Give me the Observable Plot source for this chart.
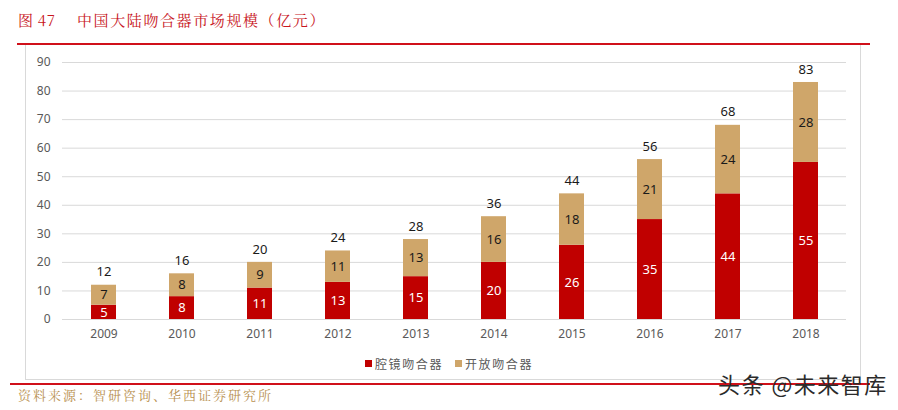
<!DOCTYPE html>
<html>
<head>
<meta charset="utf-8">
<script src="https://cdn.jsdelivr.net/npm/d3@7"></script>
<script src="https://cdn.jsdelivr.net/npm/@observablehq/plot@0.6"></script>
<style>
  html, body { margin: 0; padding: 0; background: #fff; }
  #page { position: relative; width: 898px; height: 410px; overflow: hidden; font-family: "Noto Sans CJK SC", "Noto Sans", sans-serif; }
  .title { position: absolute; top: 9px; font-size: 15px; color: #c8161d; white-space: pre; font-family: "Noto Serif CJK SC", "Noto Sans CJK SC", serif; }
  #titleA { left: 18px; letter-spacing: 0.5px; }
  #titleB { left: 77px; letter-spacing: 1.6px; }
  #rule1 { position: absolute; left: 17px; top: 43px; width: 853px; height: 2px; background: #d0101a; }
  #box { position: absolute; left: 25px; top: 45px; width: 836px; height: 335px; border-left: 1px solid #d9d9d9; border-right: 1px solid #d9d9d9; border-bottom: 1px solid #d9d9d9; box-sizing: border-box; }
  #chart { position: absolute; left: 0; top: 46px; }
  #legend { position: absolute; top: 353px; left: 0; width: 898px; text-align: center; font-size: 12px; color: #595959; letter-spacing: 1.6px; }
  #legend span.item { display: inline-flex; align-items: center; margin: 0 6px; }
  #legend span.sw { display: inline-block; width: 7px; height: 7px; margin-right: 3px; }
  #rule2 { position: absolute; left: 10px; top: 383px; width: 860px; height: 2px; background: #d0101a; }
  #source { position: absolute; left: 18px; top: 385px; font-size: 13px; letter-spacing: 2px; color: #b8904f; font-family: "Noto Serif CJK SC", "Noto Sans CJK SC", serif; }
  #wm { position: absolute; left: 718px; top: 367px; font-size: 22px; letter-spacing: 1.5px; color: #2b2b2b; font-family: "Noto Sans CJK SC", sans-serif; }
</style>
</head>
<body>
<div id="page">
  <div class="title" id="titleA">图 47</div>
  <div class="title" id="titleB">中国大陆吻合器市场规模（亿元）</div>
  <div id="rule1"></div>
  <div id="box"></div>
  <div id="chart"></div>
  <div id="legend"></div>
  <div id="rule2"></div>
  <div id="source">资料来源：智研咨询、华西证券研究所</div>
  <div id="wm">头条 @未来智库</div>
</div>
<script>
const years = ["2009","2010","2011","2012","2013","2014","2015","2016","2017","2018"];
const endoscopic = [5, 8, 11, 13, 15, 20, 26, 35, 44, 55];
const openType = [7, 8, 9, 11, 13, 16, 18, 21, 24, 28];
const totals = [12, 16, 20, 24, 28, 36, 44, 56, 68, 83];
const seriesNames = ["腔镜吻合器", "开放吻合器"];
const seriesColors = ["#c00000", "#cfa66a"];
const yTicks = [0, 10, 20, 30, 40, 50, 60, 70, 80, 90];

const rows = [];
years.forEach((y, i) => {
  rows.push({year: y, series: seriesNames[0], value: endoscopic[i], y1: 0, y2: endoscopic[i]});
  rows.push({year: y, series: seriesNames[1], value: openType[i], y1: endoscopic[i], y2: endoscopic[i] + openType[i]});
});
const totalRows = years.map((y, i) => ({year: y, total: totals[i]}));

const chart = Plot.plot({
  width: 898,
  height: 300,
  marginTop: 16,
  marginBottom: 27,
  marginLeft: 62,
  marginRight: 52,
  style: {fontFamily: "Noto Sans, sans-serif", fontSize: "12px", background: "transparent"},
  x: {domain: years, paddingInner: 0.68, paddingOuter: 0.34, label: null, tickSize: 0, tickPadding: 10},
  y: {domain: [0, 90], ticks: yTicks, label: null, tickSize: 0, tickPadding: 12},
  color: {domain: seriesNames, range: seriesColors},
  marks: [
    Plot.gridY(yTicks, {stroke: "#d9d9d9", strokeOpacity: 1, strokeWidth: 1}),
    Plot.axisY(yTicks, {tickSize: 0, tickPadding: 12, color: "#595959", fontSize: 12}),
    Plot.axisX({tickSize: 0, tickPadding: 10, color: "#595959", fontSize: 12}),
    Plot.rectY(rows, {x: "year", y1: "y1", y2: "y2", fill: "series"}),
    Plot.text(rows, {x: "year", y: d => (d.y1 + d.y2) / 2, text: d => String(d.value),
      fill: d => d.series === seriesNames[0] ? "#ffffff" : "#1a1a1a", fontSize: 13}),
    Plot.text(totalRows, {x: "year", y: "total", text: d => String(d.total), dy: -13, fill: "#1a1a1a", fontSize: 13})
  ]
});
document.getElementById("chart").appendChild(chart);

const legend = document.getElementById("legend");
seriesNames.forEach((n, i) => {
  const item = document.createElement("span");
  item.className = "item";
  const sw = document.createElement("span");
  sw.className = "sw";
  sw.style.background = seriesColors[i];
  item.appendChild(sw);
  item.appendChild(document.createTextNode(n));
  legend.appendChild(item);
});
</script>
</body>
</html>
